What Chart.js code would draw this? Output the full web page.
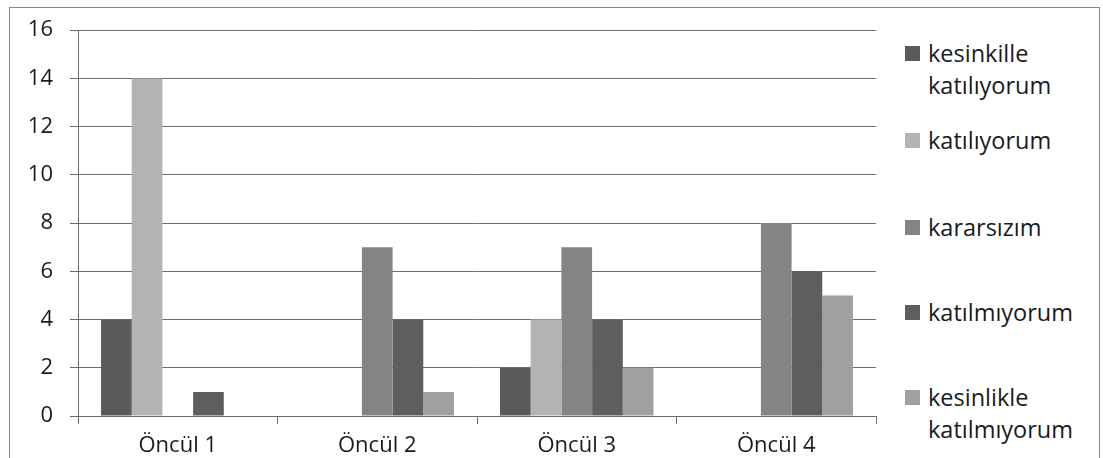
<!DOCTYPE html>
<html>
<head>
<meta charset="utf-8">
<script src="https://cdn.jsdelivr.net/npm/chart.js@4"></script>
<style>
  html, body { margin: 0; padding: 0; background: #fff; width: 1103px; height: 458px; overflow: hidden; }
  #frame { position: absolute; left: 9px; top: 7px; width: 1091px; height: 480px; border: 1px solid #8a8a8a; box-sizing: border-box; }
  #c { position: absolute; left: 0; top: 0; }
  #legend { position: absolute; left: 0; top: 0; font-family: "Open Sans", sans-serif; font-size: 23.5px; color: #1a1a1a; }
  .item { position: absolute; left: 905px; line-height: 32px; }
  .sw { position: absolute; left: 0; top: 9px; width: 15px; height: 15px; }
  .txt { position: absolute; left: 23px; top: 0; white-space: nowrap; }
</style>
</head>
<body>
<div id="frame"></div>
<canvas id="c" width="890" height="458"></canvas>
<div id="legend"></div>
<script>
const categories = ["Öncül 1", "Öncül 2", "Öncül 3", "Öncül 4"];
const seriesNames = [
  ["kesinkille", "katılıyorum"],
  ["katılıyorum"],
  ["kararsızım"],
  ["katılmıyorum"],
  ["kesinlikle", "katılmıyorum"]
];
const kesinkilleKatiliyorum = [4, 0, 2, 0];
const katiliyorum = [14, 0, 4, 0];
const kararsizim = [0, 7, 7, 8];
const katilmiyorum = [1, 4, 4, 6];
const kesinlikleKatilmiyorum = [0, 1, 2, 5];
const yTicks = [0, 2, 4, 6, 8, 10, 12, 14, 16];

const seriesValues = [kesinkilleKatiliyorum, katiliyorum, kararsizim, katilmiyorum, kesinlikleKatilmiyorum];
const seriesColors = ["#5a5a5a", "#b3b3b3", "#848484", "#5e5e5e", "#a0a0a0"];

const FONT = "'Open Sans', sans-serif";
const gridColor = "#6c6c6c";

const chart = new Chart(document.getElementById("c"), {
  type: "bar",
  data: {
    labels: categories,
    datasets: seriesValues.map((v, i) => ({
      label: seriesNames[i].join(" "),
      data: v,
      backgroundColor: seriesColors[i],
      borderWidth: 0,
      barPercentage: 1,
      categoryPercentage: 5 / 6.5
    }))
  },
  options: {
    responsive: false,
    devicePixelRatio: 1,
    animation: false,
    layout: { padding: { top: 28, right: 14, left: 0, bottom: 0 } },
    plugins: { legend: { display: false }, tooltip: { enabled: false } },
    scales: {
      x: {
        grid: { display: true, drawOnChartArea: false, drawTicks: true, tickLength: 8, color: gridColor, offset: true },
        border: { display: true, color: gridColor, width: 1 },
        ticks: { font: { family: FONT, size: 22 }, color: "#1a1a1a", padding: 9, maxRotation: 0 },
        afterFit: s => { s.height = 42; }
      },
      y: {
        min: 0, max: 16,
        afterBuildTicks: s => { s.ticks = yTicks.map(v => ({ value: v })); },
        grid: { color: gridColor, tickLength: 8, lineWidth: 1 },
        border: { display: true, color: gridColor, width: 1 },
        ticks: { font: { family: FONT, size: 22 }, color: "#1a1a1a", padding: 17 },
        afterFit: s => { s.width = 78; }
      }
    }
  }
});

// HTML legend built from the chart's datasets
const legend = document.getElementById("legend");
const firstLineCenters = [53, 140, 227, 312, 397];
chart.data.datasets.forEach((ds, i) => {
  const item = document.createElement("div");
  item.className = "item";
  item.style.top = (firstLineCenters[i] - 16) + "px";
  const sw = document.createElement("div");
  sw.className = "sw";
  sw.style.background = ds.backgroundColor;
  const txt = document.createElement("div");
  txt.className = "txt";
  txt.innerHTML = seriesNames[i].join("<br>");
  item.appendChild(sw);
  item.appendChild(txt);
  legend.appendChild(item);
});
</script>
</body>
</html>
